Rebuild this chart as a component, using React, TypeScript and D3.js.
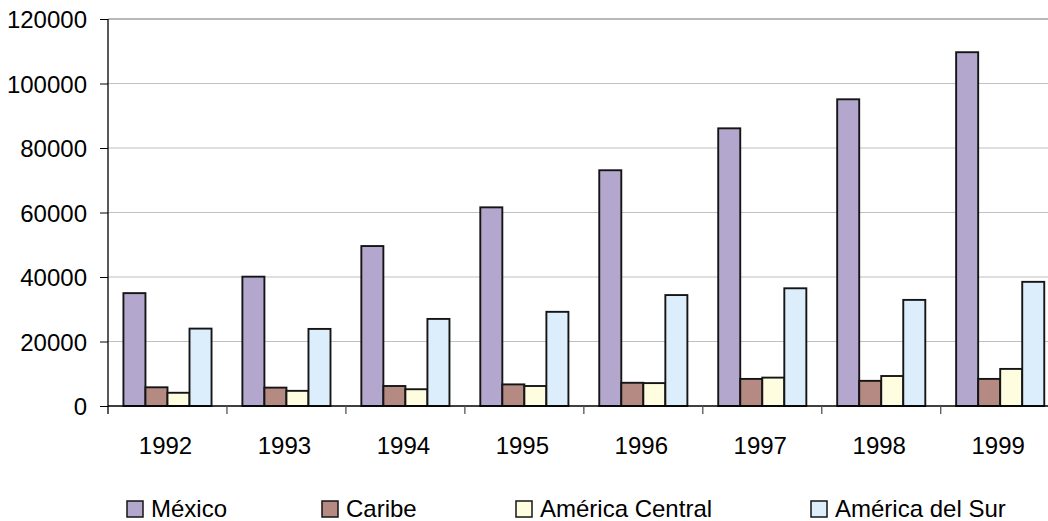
import React, { useEffect, useRef } from 'react'
import * as d3 from 'd3'

// years on the x axis
const years = ['1992', '1993', '1994', '1995', '1996', '1997', '1998', '1999']

// one array per region
const mexico = [35000, 40100, 49600, 61600, 73100, 86100, 95100, 109700]
const caribe = [5800, 5700, 6200, 6700, 7200, 8400, 7800, 8400]
const centroamerica = [4100, 4700, 5200, 6200, 7100, 8800, 9300, 11500]
const sudamerica = [24000, 23900, 27000, 29200, 34400, 36500, 32900, 38500]

const seriesNames = ['México', 'Caribe', 'América Central', 'América del Sur']
const seriesColors = ['#b3a7cd', '#b48a82', '#fffde0', '#dcedfb']
const yTicks = [0, 20000, 40000, 60000, 80000, 100000, 120000]

const W = 1048
const H = 521
const FONT = '"Liberation Sans", Arial, sans-serif'

const App = () => {
    const ref = useRef(null)

    useEffect(() => {
        document.body.style.margin = '0'
        const svg = d3.select(ref.current)
        svg.selectAll('*').remove()

        const left = 108, top = 19, bottom = 406
        // plot area runs past the right edge of the picture
        const right = 108 + 8 * 118.96

        const x = d3.scaleBand().domain(years).range([left, right]).paddingInner(0).paddingOuter(0)
        const y = d3.scaleLinear().domain([0, 120000]).range([bottom, top])

        const gap = x.bandwidth() * (1 - 1 / 1.35) / 2
        const xs = d3.scaleBand().domain(seriesNames).range([gap, x.bandwidth() - gap])

        const all = [mexico, caribe, centroamerica, sudamerica]

        // gridlines
        svg.append('g')
            .selectAll('line')
            .data(yTicks.filter(t => t > 0))
            .enter().append('line')
            .attr('x1', left).attr('x2', W)
            .attr('y1', d => y(d)).attr('y2', d => y(d))
            .attr('stroke', d => d === 120000 ? '#a0a0a0' : '#c0c0c0')
            .attr('stroke-width', d => d === 120000 ? 1.6 : 1.2)

        // bars
        all.forEach((vals, si) => {
            svg.append('g')
                .selectAll('rect')
                .data(vals)
                .enter().append('rect')
                .attr('x', (d, i) => x(years[i]) + xs(seriesNames[si]))
                .attr('y', d => y(d))
                .attr('width', xs.bandwidth())
                .attr('height', d => bottom - y(d))
                .attr('fill', seriesColors[si])
                .attr('stroke', '#151515')
                .attr('stroke-width', 1.9)
        })

        // y axis
        const yAxis = svg.append('g')
            .attr('transform', 'translate(' + left + ',0)')
            .call(d3.axisLeft(y).tickValues(yTicks).tickSize(8).tickPadding(13).tickFormat(d3.format('d')))
        yAxis.select('.domain').remove()
        yAxis.selectAll('line').attr('stroke', '#000')
        yAxis.selectAll('text')
            .attr('font-family', FONT).attr('font-size', 24).attr('fill', '#000')
            .attr('dy', '0.36em')

        svg.append('line')
            .attr('x1', left).attr('x2', left)
            .attr('y1', top).attr('y2', bottom + 8)
            .attr('stroke', '#000').attr('stroke-width', 1.3)

        // x axis
        svg.append('line')
            .attr('x1', left).attr('x2', W)
            .attr('y1', bottom).attr('y2', bottom)
            .attr('stroke', '#000').attr('stroke-width', 1.3)

        svg.append('g')
            .selectAll('line')
            .data(years.slice(1))
            .enter().append('line')
            .attr('x1', d => x(d)).attr('x2', d => x(d))
            .attr('y1', bottom).attr('y2', bottom + 8)
            .attr('stroke', '#555').attr('stroke-width', 1.3)

        svg.append('g')
            .selectAll('text')
            .data(years)
            .enter().append('text')
            .attr('x', d => x(d) + x.bandwidth() / 2 - 2)
            .attr('y', 454)
            .attr('text-anchor', 'middle')
            .attr('font-family', FONT).attr('font-size', 24)
            .text(d => d)

        // legend
        const legendX = [127, 322, 516, 811]
        const lg = svg.append('g')
            .selectAll('g')
            .data(seriesNames)
            .enter().append('g')
            .attr('transform', (d, i) => 'translate(' + legendX[i] + ',501)')
        lg.append('rect')
            .attr('width', 16).attr('height', 16)
            .attr('fill', (d, i) => seriesColors[i])
            .attr('stroke', '#151515').attr('stroke-width', 1.5)
        lg.append('text')
            .attr('x', 24).attr('y', 16)
            .attr('font-family', FONT).attr('font-size', 24)
            .text(d => d)
    }, [])

    return (
        <svg ref={ref} width={W} height={H}
            style={{ display: 'block', background: '#fff' }}>
        </svg>
    )
}

export default App
